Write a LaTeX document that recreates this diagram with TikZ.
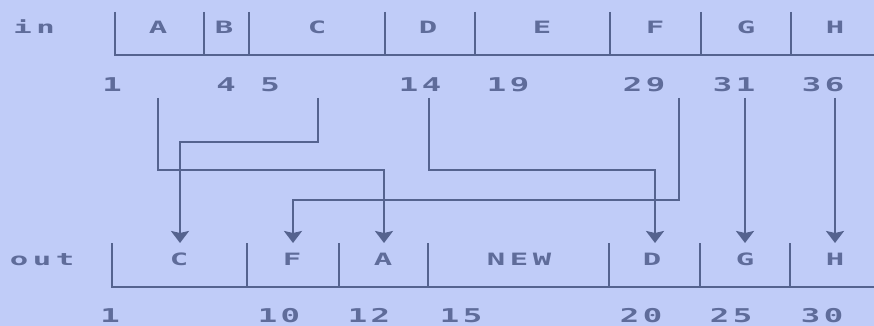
\documentclass[tikz,border=0pt]{standalone}
\usepackage{fontspec}
\usetikzlibrary{arrows.meta}
\newfontfamily\retro[LetterSpace=15,BoldFont={DejaVu Sans Mono Bold}]{DejaVu Sans Mono}
\newfontfamily\retronum[LetterSpace=11,BoldFont={DejaVu Sans Mono Bold}]{DejaVu Sans Mono}
\newcommand{\rt}[1]{\scalebox{1.8}[1.0]{\retro\bfseries\fontsize{17}{17}\selectfont #1}}
\newcommand{\rn}[1]{\scalebox{1.7}[1.0]{\retronum\bfseries\fontsize{19}{19}\selectfont #1}}
\definecolor{bgblue}{HTML}{C0CCF8}
\definecolor{inkline}{HTML}{55638F}
\definecolor{inktext}{HTML}{5F6C9A}
\begin{document}
\begin{tikzpicture}[x=1pt,y=-1pt,
  txt/.style={inner sep=0pt,text=inktext,anchor=base},
  rowline/.style={draw=inkline,line width=2.4pt},
  conn/.style={draw=inkline,line width=2.4pt,-{Stealth[length=12pt,width=18pt,inset=2pt]}}]
\useasboundingbox[fill=bgblue] (0,0) rectangle (874,326);
% input row
\path[rowline] (115,12) -- (115,55) -- (874,55);
\foreach \x in {204,249,385,475,610,701,791} \path[rowline] (\x,12) -- (\x,55);
\node[txt] (lin) at (34,34) {\rt{in}};
\node[txt] (iA) at (158,34) {\rt{A}};
\node[txt] (iB) at (224,34) {\rt{B}};
\node[txt] (iC) at (317,34) {\rt{C}};
\node[txt] (iD) at (428,34) {\rt{D}};
\node[txt] (iE) at (542,34) {\rt{E}};
\node[txt] (iF) at (655,34) {\rt{F}};
\node[txt] (iG) at (746,34) {\rt{G}};
\node[txt] (iH) at (835,34) {\rt{H}};
\node[txt] (n1) at (112,92) {\rn{1}};
\node[txt] (n4) at (226,92) {\rn{4}};
\node[txt] (n5) at (270,92) {\rn{5}};
\node[txt] (n14) at (420,92) {\rn{14}};
\node[txt] (n19) at (508,92) {\rn{19}};
\node[txt] (n29) at (644,92) {\rn{29}};
\node[txt] (n31) at (734,92) {\rn{31}};
\node[txt] (n36) at (823,92) {\rn{36}};
% output row
\path[rowline] (112,243) -- (112,287) -- (874,287);
\foreach \x in {247,339,428,609,700,790} \path[rowline] (\x,243) -- (\x,287);
\node[txt] (lout) at (42,265) {\rt{out}};
\node[txt] (oC) at (179,265) {\rt{C}};
\node[txt] (oF) at (292,265) {\rt{F}};
\node[txt] (oA) at (383,265) {\rt{A}};
\node[txt] (oNEW) at (519,265) {\rt{NEW}};
\node[txt] (oD) at (652,265) {\rt{D}};
\node[txt] (oG) at (745,265) {\rt{G}};
\node[txt] (oH) at (835,265) {\rt{H}};
\node[txt] (m1) at (110,322) {\rn{1}};
\node[txt] (m10) at (279,322) {\rn{10}};
\node[txt] (m12) at (369,322) {\rn{12}};
\node[txt] (m15) at (461,322) {\rn{15}};
\node[txt] (m20) at (641,322) {\rn{20}};
\node[txt] (m25) at (731,322) {\rn{25}};
\node[txt] (m30) at (822,322) {\rn{30}};
% connector end points
\coordinate (sA) at (158,98);  \coordinate (tA) at (384,243);
\coordinate (sC) at (318,98);  \coordinate (tC) at (180,243);
\coordinate (sD) at (429,98);  \coordinate (tD) at (655,243);
\coordinate (sF) at (679,98);  \coordinate (tF) at (293,243);
\coordinate (sG) at (745,98);  \coordinate (tG) at (745,243);
\coordinate (sH) at (835,98);  \coordinate (tH) at (835,243);
% connectors
\draw[conn] (sA) -- ++(0,72) -| (tA);
\draw[conn] (sC) -- ++(0,44) -| (tC);
\draw[conn] (sD) -- ++(0,72) -| (tD);
\draw[conn] (sF) -- ++(0,102) -| (tF);
\draw[conn] (sG) -- (tG);
\draw[conn] (sH) -- (tH);
\end{tikzpicture}
\end{document}
